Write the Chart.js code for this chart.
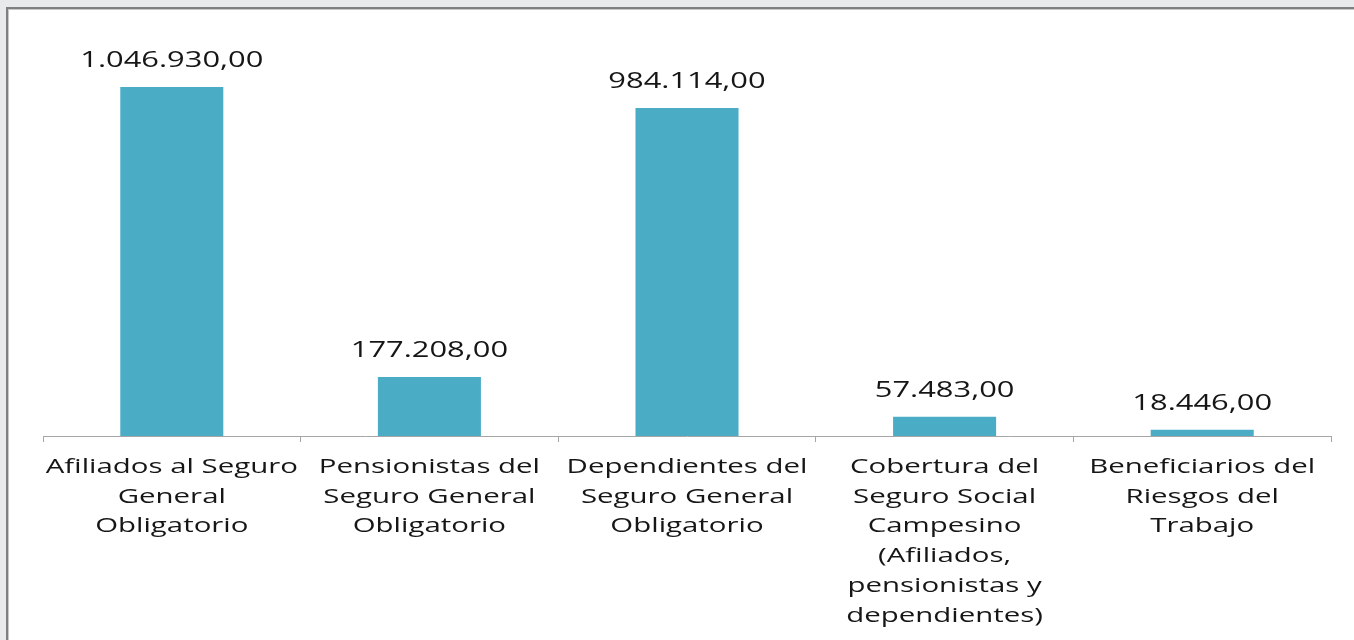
<!DOCTYPE html>
<html>
<head>
<meta charset="utf-8">
<script src="https://cdn.jsdelivr.net/npm/chart.js@4/dist/chart.umd.min.js"></script>
<style>
  html, body { margin: 0; padding: 0; background: #e9eaec; overflow: hidden; }
  #frame { position: absolute; left: 6px; top: 7px; width: 1400px; height: 700px;
           background: #fff; border-top: 2px solid #7f7f7f; border-left: 2px solid #7f7f7f;
           box-shadow: inset 1px 1px 0 #c8c8c8; }
  #chart { position: absolute; left: 0; top: 0; }
</style>
</head>
<body>
<div id="frame"></div>
<canvas id="chart" width="1354" height="640"></canvas>
<script>
// categories (multi-line labels as drawn under the axis)
var categories = [
  ['Afiliados al Seguro', 'General', 'Obligatorio'],
  ['Pensionistas del', 'Seguro General', 'Obligatorio'],
  ['Dependientes del', 'Seguro General', 'Obligatorio'],
  ['Cobertura del', 'Seguro Social', 'Campesino', '(Afiliados,', 'pensionistas y', 'dependientes)'],
  ['Beneficiarios del', 'Riesgos del', 'Trabajo']
];
var values = [1046930, 177208, 984114, 57483, 18446];

var barColor = '#4bacc6';
var textColor = '#161616';
var fontFam = '"Open Sans", "Noto Sans", sans-serif';
var stretch = 1.47; // the original font is drawn wide

// 1046930 -> "1.046.930,00"
function fmt(v){
  var s = Math.round(v).toString();
  s = s.replace(/\B(?=(\d{3})+(?!\d))/g, '.');
  return s + ',00';
}

function wideText(ctx, txt, x, y){
  ctx.save();
  ctx.translate(x, y);
  ctx.scale(stretch, 1);
  ctx.fillText(txt, 0, 0);
  ctx.restore();
}

var wideLabels = {
  id: 'wideLabels',
  afterDraw: function(chart){
    var ctx = chart.ctx;
    ctx.save();
    ctx.fillStyle = textColor;
    ctx.textAlign = 'center';
    ctx.textBaseline = 'middle';

    // values above bars
    ctx.font = '21px ' + fontFam;
    chart.getDatasetMeta(0).data.forEach(function(bar, i){
      wideText(ctx, fmt(values[i]), bar.x, bar.y - 26);
    });

    // category labels under the axis
    var xs = chart.scales.x;
    ctx.font = '20px ' + fontFam;
    categories.forEach(function(lines, i){
      var x = xs.getPixelForTick(i);
      lines.forEach(function(line, j){
        wideText(ctx, line, x, xs.top + 31 + j * 29.8);
      });
    });
    ctx.restore();
  }
};

var ctx = document.getElementById('chart').getContext('2d');
var chart = new Chart(ctx, {
  type: 'bar',
  data: {
    labels: categories,
    datasets: [{
      data: values,
      backgroundColor: barColor,
      borderWidth: 0,
      barPercentage: 0.4,
      categoryPercentage: 1
    }]
  },
  options: {
    responsive: false,
    animation: false,
    layout: { padding: { left: 43, right: 23, top: 36, bottom: 0 } },
    plugins: { legend: { display: false }, tooltip: { enabled: false } },
    scales: {
      x: {
        offset: true,
        grid: { display: true, drawOnChartArea: false, tickLength: 6, color: '#a6a6a6', offset: true },
        border: { display: true, color: '#a6a6a6', width: 1 },
        ticks: {
          autoSkip: false, maxRotation: 0, minRotation: 0,
          color: 'rgba(0,0,0,0)', padding: 6,
          font: { family: fontFam, size: 20, lineHeight: 1.5 }
        },
        afterFit: function(scale){ scale.height = 204; }
      },
      y: {
        display: false,
        min: 0,
        max: 1200000
      }
    }
  },
  plugins: [wideLabels]
});
</script>
</body>
</html>
